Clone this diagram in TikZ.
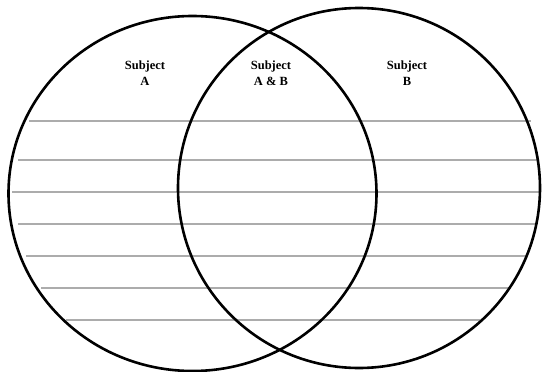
\documentclass[tikz,border=0pt]{standalone}
\usepackage{fontspec}
\setmainfont{Liberation Serif}
\tikzset{
  ring/.style={line width=2.6pt, black},
  rule/.style={line width=1.4pt, gray!65},
  title/.style={font=\bfseries\fontsize{12.5}{15.5}\selectfont, align=center, inner sep=0pt}
}
\begin{document}
\begin{tikzpicture}[x=1pt,y=-1pt]

  \useasboundingbox (0,0) rectangle (542,372);

  % --- righe ---
  \foreach \y/\xa/\xb in {121/29/531, 160/18/538, 192/12/540, 224/18/535,
                          256/26/527, 288/41/511, 320/66/480}
    \draw[rule] (\xa,\y) -- (\xb,\y);

  % --- cerchi ---
  \draw[ring] (192.5,193.5) ellipse [x radius=184pt, y radius=177.5pt];
  \draw[ring] (359,188) ellipse [x radius=181pt, y radius=180pt];

  % --- titoli ---
  \node[title] (subjA)  at (145,73) {Subject\\A};
  \node[title] (subjAB) at (271,73) {Subject\\A \& B};
  \node[title] (subjB)  at (407,73) {Subject\\B};

\end{tikzpicture}
\end{document}
